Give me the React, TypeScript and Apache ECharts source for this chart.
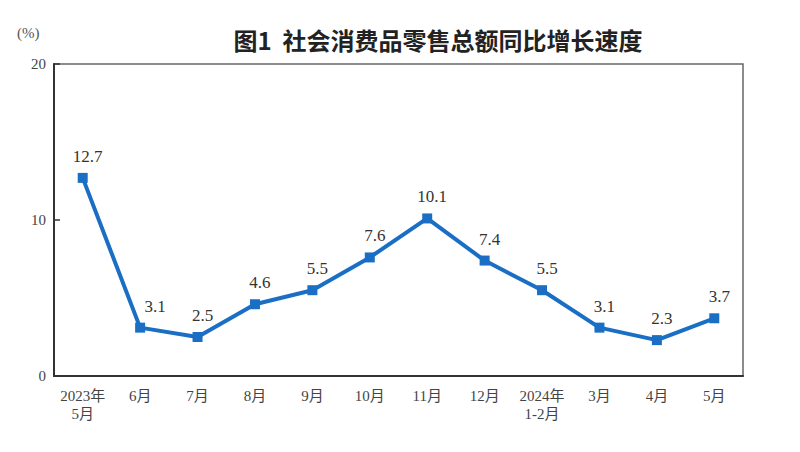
import React, { useEffect, useRef } from "react";
import * as echarts from "echarts";

const categories = ["2023年\n5月", "6月", "7月", "8月", "9月", "10月", "11月", "12月", "2024年\n1-2月", "3月", "4月", "5月"];
const growth = [12.7, 3.1, 2.5, 4.6, 5.5, 7.6, 10.1, 7.4, 5.5, 3.1, 2.3, 3.7];
const yTicks = [0, 10, 20];

const SERIF = '"Liberation Serif", "Noto Sans CJK SC", serif';

export default function App() {
  const ref = useRef<HTMLDivElement>(null);
  useEffect(() => {
    const chart = echarts.init(ref.current!, null, { renderer: "svg" });
    chart.setOption({
      animation: false,
      backgroundColor: "#fff",
      title: {
        text: "图1  社会消费品零售总额同比增长速度",
        left: 433,
        textAlign: "center",
        top: 22,
        textStyle: { fontFamily: '"Noto Sans CJK SC", sans-serif', fontSize: 24, fontWeight: "bold", color: "#222" },
      },
      graphic: [
        {
          type: "text",
          left: 17,
          top: 25,
          style: { text: "(%)", font: `15px ${SERIF}`, fill: "#555" },
        },
      ],
      grid: {
        left: 54,
        right: 57,
        top: 64,
        bottom: 76,
        show: true,
        borderColor: "#666",
        borderWidth: 1.5,
      },
      xAxis: {
        type: "category",
        data: categories,
        boundaryGap: true,
        axisLine: { lineStyle: { color: "#333", width: 2 } },
        axisTick: { inside: true, length: 6, lineStyle: { color: "#333", width: 1.5 } },
        axisLabel: { fontFamily: SERIF, fontSize: 15, color: "#444", margin: 11, lineHeight: 18, interval: 0 },
      },
      yAxis: {
        type: "value",
        min: yTicks[0],
        max: yTicks[yTicks.length - 1],
        interval: 10,
        splitLine: { show: false },
        axisLine: { show: true, lineStyle: { color: "#333", width: 2 } },
        axisTick: { show: true, inside: true, length: 6, lineStyle: { color: "#333", width: 1.5 } },
        axisLabel: { fontFamily: SERIF, fontSize: 15, color: "#444", margin: 8 },
      },
      series: [
        {
          type: "line",
          data: growth.map((v, i) => ({
            value: v,
            label: { offset: [i === 1 ? 15 : 5, 0] },
          })),
          symbol: "rect",
          symbolSize: 10,
          lineStyle: { color: "#1a6fc4", width: 4 },
          itemStyle: { color: "#1a6fc4" },
          label: {
            show: true,
            position: "top",
            distance: 8,
            fontFamily: SERIF,
            fontSize: 17,
            color: "#333",
            formatter: (p: any) => p.value.toFixed(1),
          },
        },
      ],
    });
    return () => chart.dispose();
  }, []);
  return <div ref={ref} style={{ position: "fixed", left: 0, top: 0, width: 800, height: 452 }} />;
}
